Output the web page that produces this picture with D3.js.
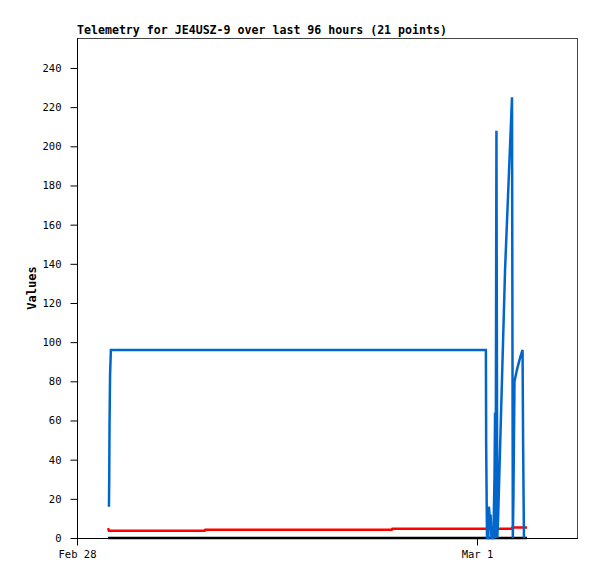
<!DOCTYPE html>
<html lang="en">
  <head>
    <meta charset="utf-8">
    <title>Telemetry</title>
    <script src="https://d3js.org/d3.v7.min.js"></script>
    <style>
      body { margin: 0; background: #fff; }
      text { font-family: "DejaVu Sans Mono", monospace; }
    </style>
  </head>
  <body>
    <svg width="597" height="579"></svg>
    <script type="text/javascript">
      // series (times are "month-day hour:minute")
      var blueTimes = ["02-28 01:55", "02-28 01:56", "02-28 01:57", "02-28 01:59", "02-28 02:02",
                       "03-01 00:32", "03-01 00:33", "03-01 00:36", "03-01 00:41", "03-01 00:43",
                       "03-01 00:47", "03-01 00:49", "03-01 00:52", "03-01 00:59", "03-01 01:03",
                       "03-01 01:05", "03-01 01:07", "03-01 01:10", "03-01 01:13", "03-01 01:16",
                       "03-01 01:41", "03-01 02:06", "03-01 02:09", "03-01 02:11", "03-01 02:15",
                       "03-01 02:24", "03-01 02:35", "03-01 02:44", "03-01 02:46", "03-01 02:49"];
      var blueValues = [16, 30, 56, 83, 96,
                        96, 48, 0, 0, 16,
                        8, 12, 0, 0, 31,
                        64, 0, 208, 0, 10,
                        137, 225, 0, 20, 80,
                        86, 92, 96, 48, 0];

      var redTimes = ["02-28 01:52", "02-28 01:55", "02-28 07:40", "02-28 07:42", "02-28 18:53",
                      "02-28 18:55", "03-01 02:05", "03-01 02:07", "03-01 03:00"];
      var redValues = [5.1, 3.7, 3.7, 4.2, 4.2, 4.7, 4.7, 5.3, 5.3];

      var blackTimes = ["02-28 01:52", "03-01 03:00"];
      var blackValues = [0, 0];

      var yTicks = [0, 20, 40, 60, 80, 100, 120, 140, 160, 180, 200, 220, 240];
      var xTicks = ["02-28 00:00", "03-01 00:00"];
      var xTickLabels = ["Feb 28", "Mar 1"];

      var parse = d3.timeParse("%m-%d %H:%M");

      var svg = d3.select("svg"),
          margin = {left: 77, top: 38, right: 20, bottom: 41},
          width = +svg.attr("width") - margin.left - margin.right,
          height = +svg.attr("height") - margin.top - margin.bottom;

      var x = d3.scaleTime()
          .domain([parse("02-28 00:00"), parse("03-01 06:00")])
          .range([margin.left, margin.left + width]);

      var y = d3.scaleLinear()
          .domain([0, 255.3])
          .range([margin.top + height, margin.top]);

      // frame
      svg.append("rect")
          .attr("x", margin.left + 0.5)
          .attr("y", margin.top + 0.5)
          .attr("width", width)
          .attr("height", height)
          .attr("fill", "#fff")
          .attr("stroke", "#444")
          .attr("stroke-width", 1);

      // title
      svg.append("text")
          .attr("x", margin.left)
          .attr("y", 34)
          .attr("font-size", 11.6)
          .attr("font-weight", "bold")
          .text("Telemetry for JE4USZ-9 over last 96 hours (21 points)");

      // y axis
      var yAxis = d3.axisLeft(y)
          .tickValues(yTicks)
          .tickSize(7)
          .tickPadding(9);

      var gy = svg.append("g")
          .attr("transform", "translate(" + (margin.left + 0.5) + ",0)")
          .call(yAxis);
      gy.select(".domain").remove();
      gy.selectAll("text").attr("font-size", 10.5).attr("fill", "#000")
          .style("font-family", "DejaVu Sans Mono");

      // x axis
      var xAxis = d3.axisBottom(x)
          .tickValues(xTicks.map(parse))
          .tickFormat(function(d, i) { return xTickLabels[i]; })
          .tickSize(7)
          .tickPadding(5);

      var gx = svg.append("g")
          .attr("transform", "translate(0," + (margin.top + height + 0.5) + ")")
          .call(xAxis);
      gx.select(".domain").remove();
      gx.selectAll("text").attr("font-size", 10.5).attr("fill", "#000")
          .style("font-family", "DejaVu Sans Mono");

      // axis lines (black left and bottom)
      svg.append("line")
          .attr("x1", margin.left + 0.5).attr("x2", margin.left + 0.5)
          .attr("y1", margin.top).attr("y2", margin.top + height + 1)
          .attr("stroke", "#000");
      svg.append("line")
          .attr("x1", margin.left).attr("x2", margin.left + width + 1)
          .attr("y1", margin.top + height + 0.5).attr("y2", margin.top + height + 0.5)
          .attr("stroke", "#000");

      // y label
      svg.append("text")
          .attr("transform", "translate(36," + (margin.top + height / 2) + ") rotate(-90)")
          .attr("text-anchor", "middle")
          .attr("font-size", 12)
          .attr("font-weight", "bold")
          .text("Values");

      function series(times, values) {
        return times.map(function(t, i) { return {t: parse(t), v: values[i]}; });
      }

      var line = d3.line()
          .x(function(d) { return x(d.t); })
          .y(function(d) { return y(d.v); });

      var plot = svg.append("g");

      plot.append("path")
          .datum(series(blackTimes, blackValues))
          .attr("fill", "none")
          .attr("stroke", "#000")
          .attr("stroke-width", 2.5)
          .attr("d", line);

      plot.append("path")
          .datum(series(redTimes, redValues))
          .attr("fill", "none")
          .attr("stroke", "#ff0000")
          .attr("stroke-width", 2.5)
          .attr("d", line);

      plot.append("path")
          .datum(series(blueTimes, blueValues))
          .attr("fill", "none")
          .attr("stroke", "#0066cc")
          .attr("stroke-width", 2.5)
          .attr("stroke-linejoin", "miter")
          .attr("d", line);
    </script>
  </body>
</html>
